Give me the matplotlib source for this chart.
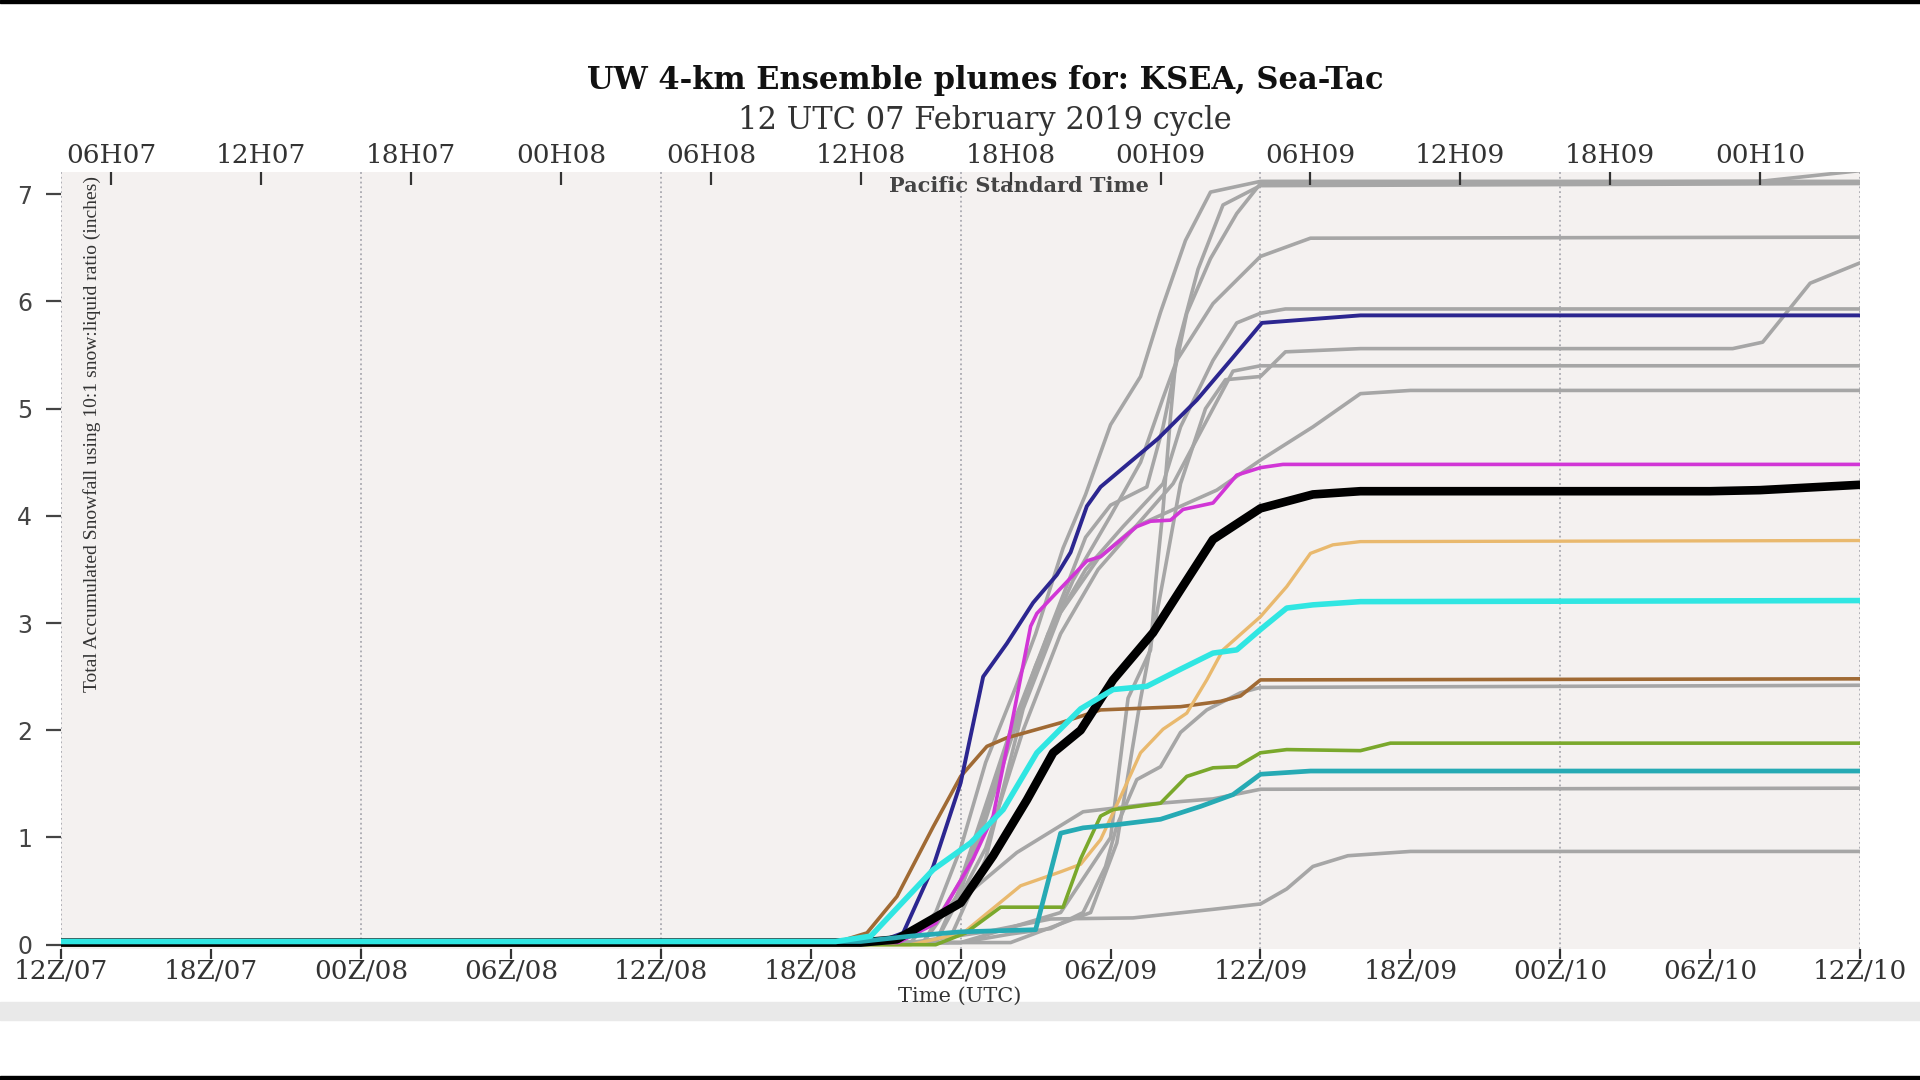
import matplotlib
matplotlib.use('Agg')
import matplotlib.pyplot as plt
from matplotlib.patches import Rectangle

# hours since 12Z/07, accumulated snowfall (inches)
utc_ticks = list(range(0, 73, 6))
utc_labels = ['12Z/07', '18Z/07', '00Z/08', '06Z/08', '12Z/08', '18Z/08', '00Z/09',
              '06Z/09', '12Z/09', '18Z/09', '00Z/10', '06Z/10', '12Z/10']
pst_ticks = list(range(2, 69, 6))
pst_labels = ['06H07', '12H07', '18H07', '00H08', '06H08', '12H08', '18H08',
              '00H09', '06H09', '12H09', '18H09', '00H10']
grid_hours = list(range(0, 73, 12))

# gray ensemble members
g1_h = [0, 34, 35, 36, 37, 38.2, 39, 40.1, 41, 42, 43.2, 44, 45, 46, 48, 72]
g1_v = [0.02, 0.02, 0.3, 0.9, 1.7, 2.4, 2.9, 3.7, 4.2, 4.85, 5.3, 5.9, 6.57, 7.02, 7.12, 7.12]
g2_h = [0, 34.5, 36, 37, 38, 39, 40, 41, 42, 43.45, 44.1, 45.05, 46, 47.05, 48, 68, 70, 72]
g2_v = [0.02, 0.02, 0.6, 1.3, 2.0, 2.6, 3.2, 3.8, 4.1, 4.27, 4.83, 5.89, 6.4, 6.82, 7.1, 7.12, 7.17, 7.22]
g3_h = [0, 36, 40, 42, 42.7, 43.6, 43.8, 44.1, 44.4, 44.65, 45.5, 46.5, 48, 72]
g3_v = [0.02, 0.02, 0.3, 1.0, 2.3, 2.75, 3.37, 4.06, 4.93, 5.55, 6.3, 6.9, 7.08, 7.1]
g4_h = [0, 34.5, 36, 37.5, 39, 40.5, 42, 43.2, 44.1, 44.65, 46.1, 48, 50, 72]
g4_v = [0.02, 0.02, 0.5, 1.6, 2.6, 3.4, 4.0, 4.5, 5.1, 5.45, 5.98, 6.42, 6.59, 6.6]
g5_h = [0, 35, 36.5, 38, 39.5, 41, 42.5, 44.1, 44.8, 46.1, 47.05, 48, 49, 72]
g5_v = [0.02, 0.02, 0.8, 1.9, 2.9, 3.5, 3.9, 4.3, 4.83, 5.45, 5.80, 5.89, 5.93, 5.93]
g6_h = [0, 38, 41.2, 42.25, 43.2, 44.1, 44.8, 45.8, 46.6, 48, 49, 52, 66.9, 68.1, 70, 72]
g6_v = [0.02, 0.02, 0.30, 0.95, 2.29, 3.4, 4.3, 5.0, 5.27, 5.30, 5.53, 5.56, 5.56, 5.62, 6.17, 6.36]
g7_h = [0, 35, 37, 38.5, 40, 41.5, 43, 44.5, 46.1, 46.9, 48, 72]
g7_v = [0.02, 0.02, 0.9, 2.0, 2.9, 3.5, 3.9, 4.3, 5.0, 5.35, 5.40, 5.40]
g8_h = [0, 35.5, 37, 38.5, 40, 41.5, 43, 44.9, 46.25, 48, 50.1, 52, 54, 72]
g8_v = [0.02, 0.02, 0.8, 2.2, 3.1, 3.6, 3.9, 4.1, 4.24, 4.52, 4.83, 5.14, 5.17, 5.17]
g9_h = [0, 36, 38, 39.6, 40.9, 41.8, 42.25, 43.05, 44, 44.8, 45.85, 47.2, 48, 72]
g9_v = [0.02, 0.02, 0.1, 0.15, 0.30, 0.73, 1.11, 1.54, 1.66, 1.98, 2.19, 2.35, 2.40, 2.42]
g10_h = [0, 33.5, 34.2, 36, 38.25, 40.9, 43.45, 46.1, 48, 72]
g10_v = [0.02, 0.02, 0.11, 0.42, 0.86, 1.24, 1.31, 1.36, 1.45, 1.46]
g11_h = [0, 34, 37, 39.6, 42.9, 46.1, 48, 49.05, 50.1, 51.5, 54, 72]
g11_v = [0.02, 0.02, 0.12, 0.24, 0.25, 0.33, 0.38, 0.52, 0.73, 0.83, 0.87, 0.87]

# coloured members
brown_h = [0, 31, 32.25, 33.45, 34.9, 36.0, 37.05, 37.85, 40.0, 41.6, 44.8, 46.4, 47.2, 48.0, 72]
brown_v = [0.02, 0.02, 0.11, 0.45, 1.10, 1.57, 1.85, 1.93, 2.07, 2.19, 2.22, 2.27, 2.32, 2.47, 2.48]
tan_h = [0, 34, 36.1, 38.4, 40.0, 40.8, 41.6, 42.4, 43.2, 44.1, 45.05, 45.85, 46.5, 48.0, 49.05, 50.0, 50.9, 52, 72]
tan_v = [0.0, 0.0, 0.11, 0.55, 0.68, 0.75, 0.98, 1.38, 1.79, 2.01, 2.16, 2.47, 2.75, 3.06, 3.34, 3.65, 3.73, 3.76, 3.77]
green_h = [0, 35, 36.2, 37.6, 40.1, 40.8, 41.6, 42.1, 44.0, 45.05, 46.1, 47.05, 48.0, 49.05, 52, 53.2, 72]
green_v = [0.0, 0.0, 0.11, 0.35, 0.35, 0.8, 1.2, 1.26, 1.32, 1.57, 1.65, 1.66, 1.79, 1.82, 1.81, 1.88, 1.88]
blue_h = [0, 32, 33, 33.7, 34.9, 36.0, 36.9, 37.85, 38.9, 39.85, 40.4, 41.05, 41.6, 43.9, 45.45, 46.8, 48.06, 52, 72]
blue_v = [0.02, 0.02, 0.05, 0.11, 0.73, 1.51, 2.50, 2.81, 3.19, 3.45, 3.66, 4.09, 4.27, 4.72, 5.08, 5.45, 5.80, 5.87, 5.87]
magenta_h = [0, 33.5, 35, 36.5, 37.3, 38.1, 38.8, 39.05, 39.7, 41.05, 41.6, 43.05, 43.6, 44.4, 44.9, 46.1, 47.05, 48.0, 48.9, 72]
magenta_v = [0.02, 0.02, 0.2, 0.8, 1.2, 2.13, 2.97, 3.09, 3.25, 3.58, 3.62, 3.90, 3.95, 3.96, 4.06, 4.12, 4.38, 4.45, 4.48, 4.48]
mean_h = [0, 32, 33.45, 36.0, 37.3, 38.65, 39.7, 40.8, 42.1, 43.7, 44.8, 46.1, 48.0, 50.1, 52, 66, 68, 72]
mean_v = [0.02, 0.02, 0.05, 0.39, 0.83, 1.35, 1.79, 2.0, 2.47, 2.91, 3.31, 3.78, 4.07, 4.20, 4.23, 4.23, 4.24, 4.29]
teal_h = [0, 32, 34, 36, 39.0, 40.0, 40.9, 42.25, 44.0, 45.6, 46.9, 48.0, 50, 72]
teal_v = [0.03, 0.03, 0.08, 0.12, 0.14, 1.04, 1.09, 1.12, 1.17, 1.29, 1.40, 1.59, 1.62, 1.62]
cyan_h = [0, 31, 32.4, 34.9, 36.4, 37.7, 39.05, 40.8, 42.1, 43.45, 44.8, 46.1, 47.05, 48.0, 49.05, 50.1, 52, 72]
cyan_v = [0.03, 0.03, 0.08, 0.70, 0.95, 1.26, 1.79, 2.2, 2.38, 2.41, 2.57, 2.72, 2.75, 2.94, 3.14, 3.17, 3.20, 3.21]

grays = [(g1_h, g1_v), (g2_h, g2_v), (g3_h, g3_v), (g4_h, g4_v), (g5_h, g5_v), (g6_h, g6_v),
         (g7_h, g7_v), (g8_h, g8_v), (g9_h, g9_v), (g10_h, g10_v), (g11_h, g11_v)]

fig = plt.figure(figsize=(19.2, 10.8), dpi=100)
fig.patch.set_facecolor('white')

# screenshot frame bits
fig.patches.append(Rectangle((0, 1 - 3 / 1080), 1, 3 / 1080, transform=fig.transFigure, color='black'))
fig.patches.append(Rectangle((0, 0), 1, 4 / 1080, transform=fig.transFigure, color='black'))
fig.patches.append(Rectangle((0, 1 - 1020 / 1080), 1, 18 / 1080, transform=fig.transFigure, color='#e9e9e9'))

ax = fig.add_axes([0.0319, 0.1213, 0.9369, 0.7197])
ax.set_facecolor('#f4f1f0')
for s in ax.spines.values():
    s.set_visible(False)

for h in grid_hours:
    ax.axvline(h, color='#a9a9b0', lw=1.3, ls=':', zorder=1)

for hh, vv in grays:
    ax.plot(hh, vv, color='#a6a6a6', lw=2.6, solid_capstyle='round', zorder=2)

ax.plot(brown_h, brown_v, color='#a06a34', lw=2.6, zorder=3)
ax.plot(tan_h, tan_v, color='#e9b96e', lw=2.4, zorder=3)
ax.plot(green_h, green_v, color='#7aa82c', lw=2.6, zorder=3)
ax.plot(blue_h, blue_v, color='#2c2690', lw=2.8, zorder=3)
ax.plot(magenta_h, magenta_v, color='#d136d6', lw=2.6, zorder=3)
ax.plot(mean_h, mean_v, color='black', lw=6.2, zorder=4)
ax.plot(teal_h, teal_v, color='#26aab4', lw=3.4, zorder=5)
ax.plot(cyan_h, cyan_v, color='#30e6e2', lw=4, zorder=5)

ax.set_xlim(0, 72)
ax.set_ylim(-0.04, 7.21)
ax.set_xticks(utc_ticks)
ax.set_xticklabels(utc_labels, family='DejaVu Serif', fontsize=19, color='#333333')
ax.set_yticks(range(0, 8))
ax.set_yticklabels([str(i) for i in range(0, 8)], family='DejaVu Sans', fontsize=17, color='#444444')
ax.tick_params(axis='x', direction='out', length=7, width=1.6, color='#333333', pad=0)
ax.tick_params(axis='y', direction='out', length=11, width=1.6, color='#444444', pad=10)

top = ax.twiny()
top.set_xlim(0, 72)
for s in top.spines.values():
    s.set_visible(False)
top.set_xticks(pst_ticks)
top.set_xticklabels(pst_labels, family='DejaVu Serif', fontsize=19, color='#333333')
top.tick_params(axis='x', direction='in', length=9, width=1.6, color='#333333', pad=3)

ax.text(0.017, 0.995, 'Total Accumulated Snowfall using 10:1 snow:liquid ratio (inches)',
        transform=ax.transAxes, rotation=90, ha='center', va='top',
        family='Liberation Serif', fontsize=14, color='#333333')
ax.text(0.5325, 0.995, 'Pacific Standard Time', transform=ax.transAxes, ha='center', va='top',
        family='DejaVu Serif', fontsize=15, fontweight='bold', color='#444444')
fig.text(0.5, 1 - 996 / 1080, 'Time (UTC)', ha='center', va='center',
         family='DejaVu Serif', fontsize=15, color='#333333')

fig.text(0.513, 1 - 80 / 1080, 'UW 4-km Ensemble plumes for: KSEA, Sea-Tac', ha='center', va='center',
         family='DejaVu Serif', fontsize=22, fontweight='bold', color='#111111')
fig.text(0.513, 1 - 120 / 1080, '12 UTC 07 February 2019 cycle', ha='center', va='center',
         family='DejaVu Serif', fontsize=22, color='#333333')

fig.savefig('out.png', dpi=100)
